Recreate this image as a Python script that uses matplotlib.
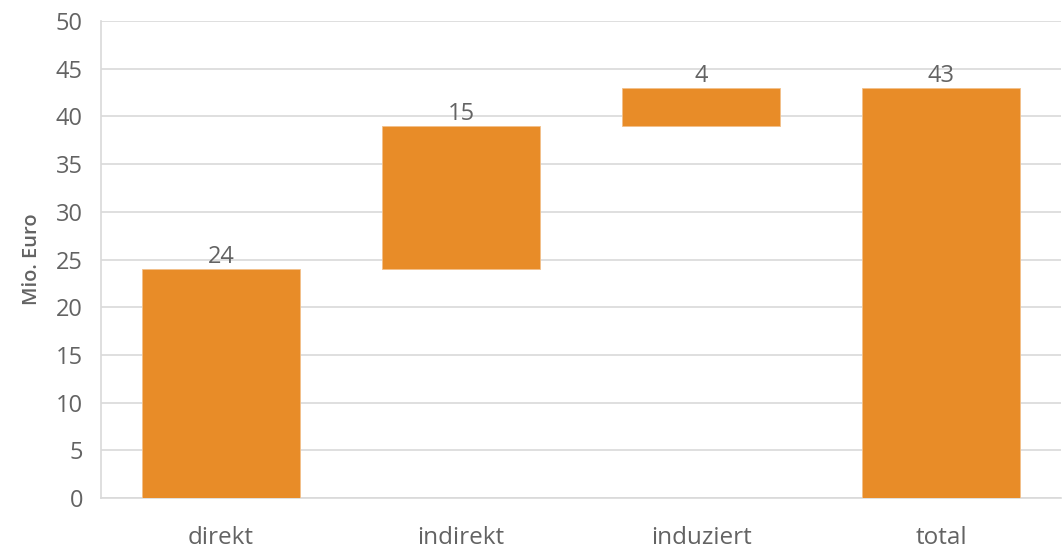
import matplotlib.pyplot as plt

plt.rcParams['font.family'] = ['Open Sans', 'DejaVu Sans']

categories = ['direkt', 'indirekt', 'induziert', 'total']
values = [24, 15, 4, 43]
is_total = [False, False, False, True]

# waterfall: each step starts where the previous one ended, totals start at 0
bottoms = []
running = 0
for v, tot in zip(values, is_total):
    if tot:
        bottoms.append(0)
    else:
        bottoms.append(running)
        running += v

bar_color = '#E88C28'
text_color = '#636363'
grid_color = '#D9D9D9'

fig = plt.figure(figsize=(10.62, 5.49), dpi=100)
ax = fig.add_axes([0.0951, 0.0929, 0.9040, 0.8688])

x = range(len(categories))
ax.bar(x, values, bottom=bottoms, width=0.66, color=bar_color,
       edgecolor='#F2C08A', linewidth=0.6, zorder=3)

for xi, v, b in zip(x, values, bottoms):
    ax.annotate(str(v), (xi, b + v), xytext=(0, 0), textcoords='offset points',
                ha='center', va='bottom', fontsize=17, color=text_color)

ax.set_xlim(-0.5, len(categories) - 0.5)
ax.set_ylim(0, 50)
ax.set_yticks(range(0, 51, 5))
ax.set_xticks(list(x))
ax.set_xticklabels(categories)
ax.tick_params(axis='both', length=0, labelsize=17, colors=text_color)
ax.tick_params(axis='x', labelsize=17.5, pad=20)
ax.tick_params(axis='y', pad=13)

ax.yaxis.grid(True, color=grid_color, linewidth=1.2, zorder=0)
ax.set_axisbelow(True)
for side in ['top', 'right']:
    ax.spines[side].set_visible(False)
ax.spines['left'].set_color(grid_color)
ax.spines['bottom'].set_color(grid_color)
ax.spines['left'].set_linewidth(1.2)
ax.spines['bottom'].set_linewidth(1.2)

ax.set_ylabel('Mio. Euro', fontsize=14.5, color=text_color, fontweight='semibold',
              labelpad=10)

fig.savefig('out.png', dpi=100)
